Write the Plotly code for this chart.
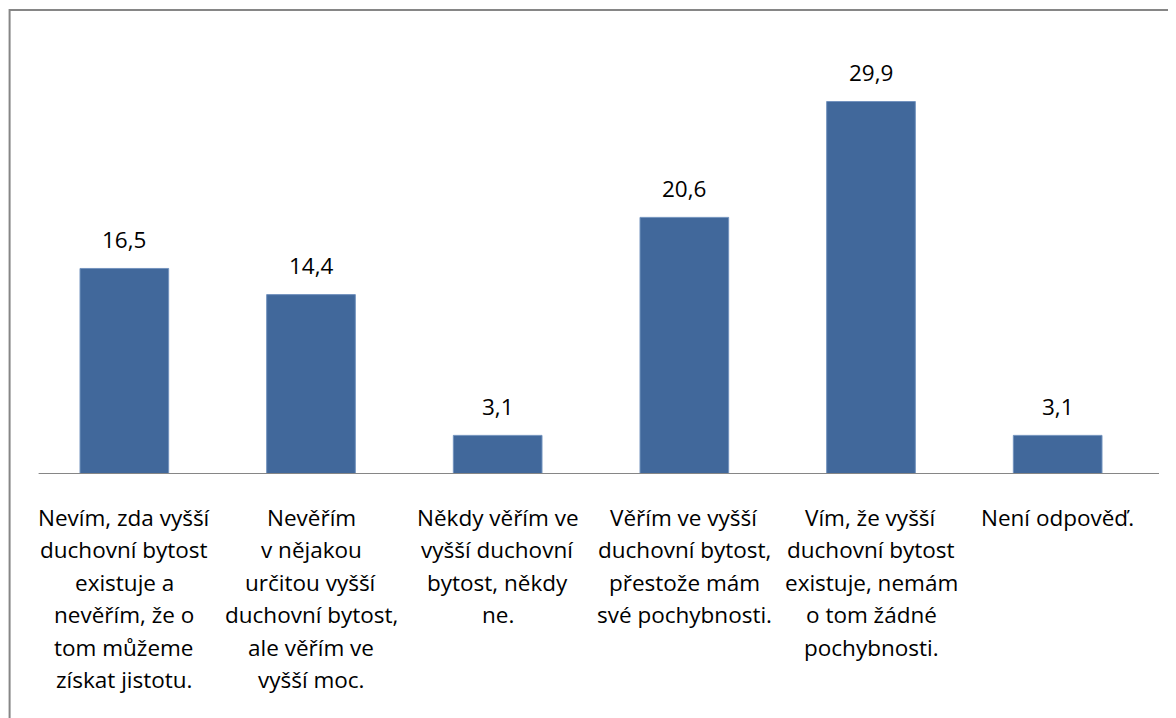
import plotly.graph_objects as go

categories = [
    "Nevím, zda vyšší duchovní bytost existuje a nevěřím, že o tom můžeme získat jistotu.",
    "Nevěřím v nějakou určitou vyšší duchovní bytost, ale věřím ve vyšší moc.",
    "Někdy věřím ve vyšší duchovní bytost, někdy ne.",
    "Věřím ve vyšší duchovní bytost, přestože mám své pochybnosti.",
    "Vím, že vyšší duchovní bytost existuje, nemám o tom žádné pochybnosti.",
    "Není odpověď.",
]
values = [16.5, 14.4, 3.1, 20.6, 29.9, 3.1]
label_lines = [
    ["Nevím, zda vyšší", "duchovní bytost", "existuje a", "nevěřím, že o", "tom můžeme", "získat jistotu."],
    ["Nevěřím", "v nějakou", "určitou vyšší", "duchovní bytost,", "ale věřím ve", "vyšší moc."],
    ["Někdy věřím ve", "vyšší duchovní", "bytost, někdy", "ne."],
    ["Věřím ve vyšší", "duchovní bytost,", "přestože mám", "své pochybnosti."],
    ["Vím, že vyšší", "duchovní bytost", "existuje, nemám", "o tom žádné", "pochybnosti."],
    ["Není odpověď."],
]

FONT = "Open Sans"
FS = 22.5
BAR = "#41689B"
GRAY = "#868686"

# plot area (figure coords; page adds 8px body margin)
L, T, W, H = 23.4, 30, 1119.6, 436.5

fig = go.Figure(
    go.Bar(
        x=categories,
        y=values,
        marker=dict(color=BAR, line=dict(color="#7393BE", width=1)),
        width=0.475,
        hoverinfo="skip",
    )
)

annotations = []
for cat, v in zip(categories, values):
    annotations.append(dict(
        x=cat, y=v, xref="x", yref="y", text=f"{v:.1f}".replace(".", ","),
        showarrow=False, yanchor="middle", yshift=29,
        font=dict(family=FONT, size=FS, color="#000000"),
    ))
for cat, lines in zip(categories, label_lines):
    for i, line in enumerate(lines):
        annotations.append(dict(
            x=cat, y=0, xref="x", yref="y", text=line,
            showarrow=False, yanchor="middle", yshift=-(43 + 32.5 * i),
            font=dict(family=FONT, size=FS, color="#000000"),
        ))

fig.update_layout(
    width=1176, height=718,
    margin=dict(l=L, r=1176 - L - W, t=T, b=718 - T - H),
    paper_bgcolor="white", plot_bgcolor="white",
    showlegend=False,
    annotations=annotations,
    xaxis=dict(showticklabels=False, showline=False, ticks="", showgrid=False, zeroline=False),
    yaxis=dict(range=[0, 35], visible=False, showgrid=False, zeroline=False),
    shapes=[
        dict(type="rect", xref="paper", yref="paper",
             x0=(2 - L) / W, x1=(1200 - L) / W,
             y0=-1.0, y1=(T + H - 2) / H,
             line=dict(color=GRAY, width=2), fillcolor="rgba(0,0,0,0)", layer="below"),
        dict(type="line", xref="paper", yref="y",
             x0=(31 - L) / W, x1=(1151 - L) / W, y0=0, y1=0,
             line=dict(color=GRAY, width=2), layer="above"),
    ],
)

fig.write_html("out.html")
